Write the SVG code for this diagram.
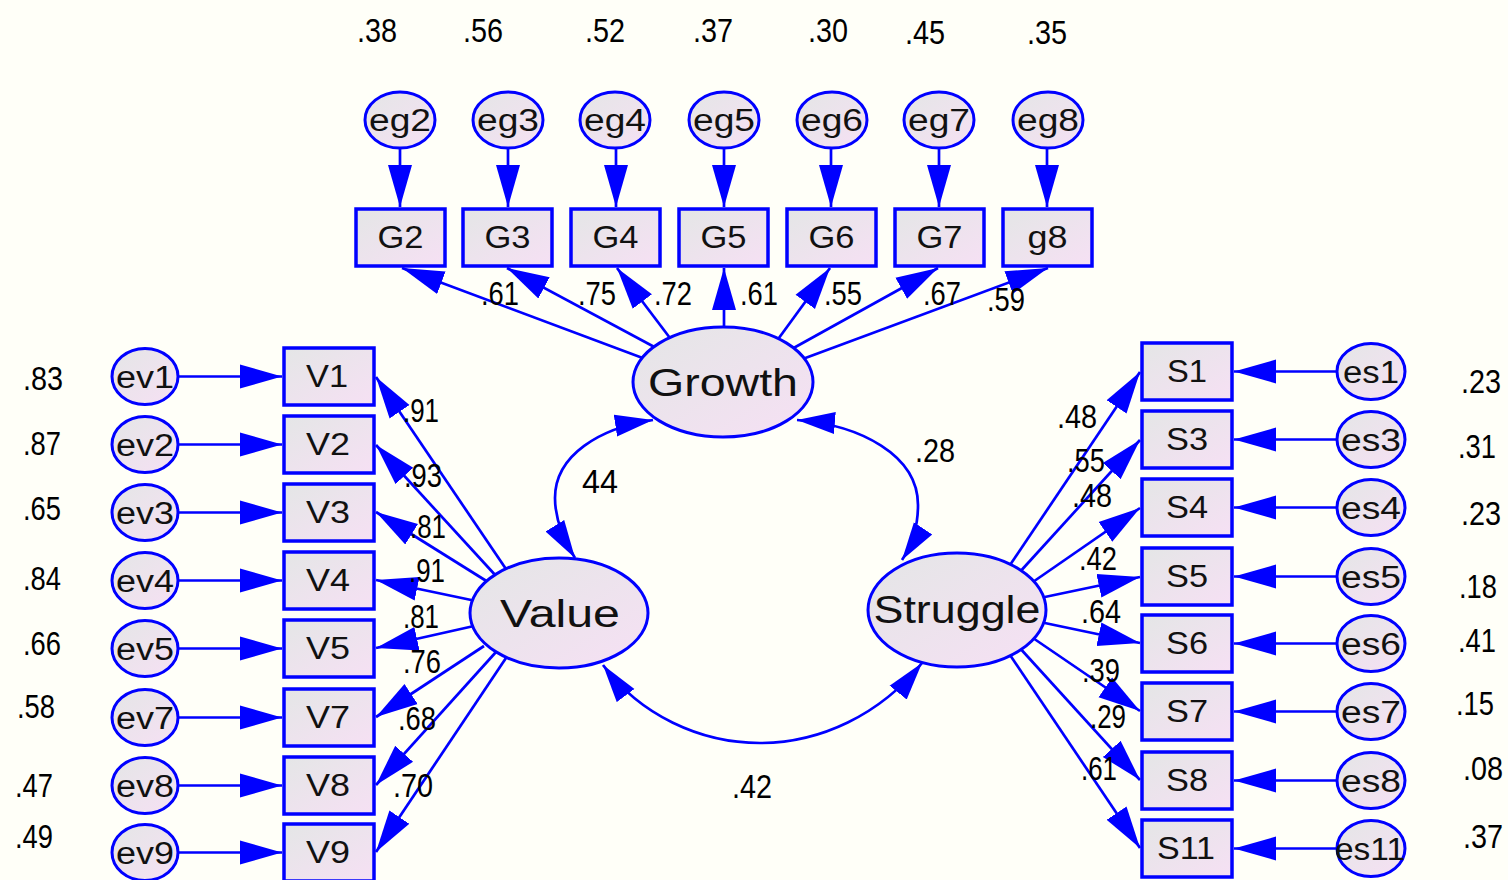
<svg xmlns="http://www.w3.org/2000/svg" width="1508" height="880" viewBox="0 0 1508 880">
<defs>
<linearGradient id="gf" x1="0" y1="0" x2="1" y2="1">
<stop offset="0" stop-color="#E4E6E6"/>
<stop offset="1" stop-color="#F6E0F4"/>
</linearGradient>
<marker id="ah" markerUnits="userSpaceOnUse" markerWidth="42" markerHeight="26" viewBox="0 0 42 26" refX="42" refY="13" orient="auto">
<path d="M0,1 L42,13 L0,25 Z" fill="#0000FF"/>
</marker>
<marker id="ahc" markerUnits="userSpaceOnUse" markerWidth="38" markerHeight="24" viewBox="0 0 38 24" refX="38" refY="12" orient="auto-start-reverse">
<path d="M0,1 L38,12 L0,23 Z" fill="#0000FF"/>
</marker>
<style>
.box{fill:url(#gf);stroke:#0000FF;stroke-width:3.5}
.ell{fill:url(#gf);stroke:#0000FF;stroke-width:3}
.lbl{font-family:"Liberation Sans",Arial,sans-serif;font-size:31px;fill:#111;text-anchor:middle}
.big{font-family:"Liberation Sans",Arial,sans-serif;font-size:38px;fill:#111;text-anchor:middle}
.num{font-family:"Liberation Sans",Arial,sans-serif;font-size:34px;fill:#000;text-anchor:middle}
.edge{stroke:#0000FF;stroke-width:2.7;fill:none;marker-end:url(#ah)}
.cov{stroke:#0000FF;stroke-width:2.7;fill:none;marker-start:url(#ahc);marker-end:url(#ahc)}
</style>
</defs>
<rect x="0" y="0" width="1508" height="880" fill="#FFFFF8"/>

<g id="connectors">
<line class="edge" x1="400" y1="148" x2="400" y2="207"/>
<line class="edge" x1="508" y1="148" x2="508" y2="207"/>
<line class="edge" x1="616" y1="148" x2="616" y2="207"/>
<line class="edge" x1="724" y1="148" x2="724" y2="207"/>
<line class="edge" x1="831" y1="148" x2="831" y2="207"/>
<line class="edge" x1="939" y1="148" x2="939" y2="207"/>
<line class="edge" x1="1047" y1="148" x2="1047" y2="207"/>
<line class="edge" x1="648" y1="360" x2="402" y2="268"/>
<line class="edge" x1="660" y1="350" x2="507" y2="268"/>
<line class="edge" x1="673" y1="342" x2="617" y2="268"/>
<line class="edge" x1="724" y1="332" x2="724" y2="268"/>
<line class="edge" x1="776" y1="342" x2="830" y2="268"/>
<line class="edge" x1="790" y1="350" x2="938" y2="268"/>
<line class="edge" x1="800" y1="360" x2="1048" y2="268"/>
<line class="edge" x1="178" y1="376.5" x2="282" y2="376.5"/>
<line class="edge" x1="178" y1="444.5" x2="282" y2="444.5"/>
<line class="edge" x1="178" y1="512.5" x2="282" y2="512.5"/>
<line class="edge" x1="178" y1="580.5" x2="282" y2="580.5"/>
<line class="edge" x1="178" y1="648.5" x2="282" y2="648.5"/>
<line class="edge" x1="178" y1="717.5" x2="282" y2="717.5"/>
<line class="edge" x1="178" y1="785.5" x2="282" y2="785.5"/>
<line class="edge" x1="178" y1="852.5" x2="282" y2="852.5"/>
<line class="edge" x1="508" y1="572" x2="376" y2="377"/>
<line class="edge" x1="497" y1="577" x2="376" y2="445"/>
<line class="edge" x1="488" y1="582" x2="376" y2="512"/>
<line class="edge" x1="476" y1="601" x2="376" y2="580"/>
<line class="edge" x1="474" y1="626" x2="376" y2="648"/>
<line class="edge" x1="484" y1="646" x2="376" y2="717"/>
<line class="edge" x1="496" y1="652" x2="376" y2="785"/>
<line class="edge" x1="508" y1="655" x2="376" y2="852"/>
<line class="edge" x1="1337" y1="371.5" x2="1234" y2="371.5"/>
<line class="edge" x1="1337" y1="439.5" x2="1234" y2="439.5"/>
<line class="edge" x1="1337" y1="507.5" x2="1234" y2="507.5"/>
<line class="edge" x1="1337" y1="576.5" x2="1234" y2="576.5"/>
<line class="edge" x1="1337" y1="643.5" x2="1234" y2="643.5"/>
<line class="edge" x1="1337" y1="711.5" x2="1234" y2="711.5"/>
<line class="edge" x1="1337" y1="780.5" x2="1234" y2="780.5"/>
<line class="edge" x1="1337" y1="848.5" x2="1234" y2="848.5"/>
<line class="edge" x1="1008" y1="568" x2="1140" y2="372"/>
<line class="edge" x1="1018" y1="574" x2="1140" y2="440"/>
<line class="edge" x1="1030" y1="584" x2="1140" y2="508"/>
<line class="edge" x1="1040" y1="598" x2="1140" y2="577"/>
<line class="edge" x1="1040" y1="622" x2="1140" y2="643"/>
<line class="edge" x1="1030" y1="636" x2="1140" y2="711"/>
<line class="edge" x1="1018" y1="646" x2="1140" y2="780"/>
<line class="edge" x1="1008" y1="652" x2="1140" y2="848"/>
<path class="cov" d="M653,420 C600,428 555,455 555,498 C555,522 565,542 575,558"/>
<path class="cov" d="M797,420 C860,425 918,455 918,505 C918,530 910,548 902,560"/>
<path class="cov" d="M603,665 C640,715 700,743 760,743 C820,743 880,715 922,663"/>
</g>

<g id="labels-edges">
<text class="num" x="500" y="305" textLength="38" lengthAdjust="spacingAndGlyphs">.61</text>
<text class="num" x="597" y="305" textLength="38" lengthAdjust="spacingAndGlyphs">.75</text>
<text class="num" x="673" y="305" textLength="38" lengthAdjust="spacingAndGlyphs">.72</text>
<text class="num" x="759" y="305" textLength="38" lengthAdjust="spacingAndGlyphs">.61</text>
<text class="num" x="843" y="305" textLength="38" lengthAdjust="spacingAndGlyphs">.55</text>
<text class="num" x="942" y="305" textLength="38" lengthAdjust="spacingAndGlyphs">.67</text>
<text class="num" x="1006" y="311" textLength="38" lengthAdjust="spacingAndGlyphs">.59</text>
<text class="num" x="421" y="422" textLength="36" lengthAdjust="spacingAndGlyphs">.91</text>
<text class="num" x="423" y="487" textLength="38" lengthAdjust="spacingAndGlyphs">.93</text>
<text class="num" x="428" y="538" textLength="36" lengthAdjust="spacingAndGlyphs">.81</text>
<text class="num" x="427" y="582" textLength="36" lengthAdjust="spacingAndGlyphs">.91</text>
<text class="num" x="421" y="628" textLength="36" lengthAdjust="spacingAndGlyphs">.81</text>
<text class="num" x="422" y="673" textLength="38" lengthAdjust="spacingAndGlyphs">.76</text>
<text class="num" x="417" y="730" textLength="38" lengthAdjust="spacingAndGlyphs">.68</text>
<text class="num" x="413" y="797" textLength="40" lengthAdjust="spacingAndGlyphs">.70</text>
<text class="num" x="1077" y="428" textLength="40" lengthAdjust="spacingAndGlyphs">.48</text>
<text class="num" x="1086" y="472" textLength="38" lengthAdjust="spacingAndGlyphs">.55</text>
<text class="num" x="1092" y="507" textLength="40" lengthAdjust="spacingAndGlyphs">.48</text>
<text class="num" x="1098" y="570" textLength="38" lengthAdjust="spacingAndGlyphs">.42</text>
<text class="num" x="1101" y="623" textLength="40" lengthAdjust="spacingAndGlyphs">.64</text>
<text class="num" x="1101" y="682" textLength="38" lengthAdjust="spacingAndGlyphs">.39</text>
<text class="num" x="1108" y="728" textLength="36" lengthAdjust="spacingAndGlyphs">.29</text>
<text class="num" x="1099" y="780" textLength="36" lengthAdjust="spacingAndGlyphs">.61</text>
<text class="num" x="600" y="493" textLength="36" lengthAdjust="spacingAndGlyphs">44</text>
<text class="num" x="935" y="462" textLength="40" lengthAdjust="spacingAndGlyphs">.28</text>
<text class="num" x="752" y="798" textLength="40" lengthAdjust="spacingAndGlyphs">.42</text>
</g>

<g id="labels-r2">
<text class="num" x="377" y="42" textLength="40" lengthAdjust="spacingAndGlyphs">.38</text>
<text class="num" x="483" y="42" textLength="40" lengthAdjust="spacingAndGlyphs">.56</text>
<text class="num" x="605" y="42" textLength="40" lengthAdjust="spacingAndGlyphs">.52</text>
<text class="num" x="713" y="42" textLength="40" lengthAdjust="spacingAndGlyphs">.37</text>
<text class="num" x="828" y="42" textLength="40" lengthAdjust="spacingAndGlyphs">.30</text>
<text class="num" x="925" y="44" textLength="40" lengthAdjust="spacingAndGlyphs">.45</text>
<text class="num" x="1047" y="44" textLength="40" lengthAdjust="spacingAndGlyphs">.35</text>
<text class="num" x="43" y="390" textLength="40" lengthAdjust="spacingAndGlyphs">.83</text>
<text class="num" x="42" y="455" textLength="38" lengthAdjust="spacingAndGlyphs">.87</text>
<text class="num" x="42" y="520" textLength="38" lengthAdjust="spacingAndGlyphs">.65</text>
<text class="num" x="42" y="590" textLength="38" lengthAdjust="spacingAndGlyphs">.84</text>
<text class="num" x="42" y="655" textLength="38" lengthAdjust="spacingAndGlyphs">.66</text>
<text class="num" x="36" y="718" textLength="38" lengthAdjust="spacingAndGlyphs">.58</text>
<text class="num" x="34" y="797" textLength="38" lengthAdjust="spacingAndGlyphs">.47</text>
<text class="num" x="34" y="848" textLength="38" lengthAdjust="spacingAndGlyphs">.49</text>
<text class="num" x="1481" y="393" textLength="40" lengthAdjust="spacingAndGlyphs">.23</text>
<text class="num" x="1477" y="458" textLength="38" lengthAdjust="spacingAndGlyphs">.31</text>
<text class="num" x="1481" y="525" textLength="40" lengthAdjust="spacingAndGlyphs">.23</text>
<text class="num" x="1478" y="598" textLength="38" lengthAdjust="spacingAndGlyphs">.18</text>
<text class="num" x="1477" y="652" textLength="38" lengthAdjust="spacingAndGlyphs">.41</text>
<text class="num" x="1475" y="715" textLength="38" lengthAdjust="spacingAndGlyphs">.15</text>
<text class="num" x="1483" y="780" textLength="40" lengthAdjust="spacingAndGlyphs">.08</text>
<text class="num" x="1483" y="848" textLength="40" lengthAdjust="spacingAndGlyphs">.37</text>
</g>

<g id="Growth"><ellipse class="ell" cx="723" cy="382" rx="90" ry="55"/><text class="big" x="723" y="396" textLength="150" lengthAdjust="spacingAndGlyphs">Growth</text></g>
<g id="Value"><ellipse class="ell" cx="559" cy="613" rx="89" ry="55"/><text class="big" x="560" y="627" textLength="120" lengthAdjust="spacingAndGlyphs">Value</text></g>
<g id="Struggle"><ellipse class="ell" cx="957" cy="610" rx="89" ry="57"/><text class="big" x="957" y="623" textLength="167" lengthAdjust="spacingAndGlyphs">Struggle</text></g>

<g id="eg2"><ellipse class="ell" cx="400" cy="120" rx="35" ry="28"/><text class="lbl" x="400" y="131" textLength="62" lengthAdjust="spacingAndGlyphs">eg2</text></g>
<g id="eg3"><ellipse class="ell" cx="508" cy="120" rx="35" ry="28"/><text class="lbl" x="508" y="131" textLength="62" lengthAdjust="spacingAndGlyphs">eg3</text></g>
<g id="eg4"><ellipse class="ell" cx="615" cy="120" rx="35" ry="28"/><text class="lbl" x="615" y="131" textLength="62" lengthAdjust="spacingAndGlyphs">eg4</text></g>
<g id="eg5"><ellipse class="ell" cx="724" cy="120" rx="35" ry="28"/><text class="lbl" x="724" y="131" textLength="62" lengthAdjust="spacingAndGlyphs">eg5</text></g>
<g id="eg6"><ellipse class="ell" cx="832" cy="120" rx="35" ry="28"/><text class="lbl" x="832" y="131" textLength="62" lengthAdjust="spacingAndGlyphs">eg6</text></g>
<g id="eg7"><ellipse class="ell" cx="939" cy="120" rx="35" ry="28"/><text class="lbl" x="939" y="131" textLength="62" lengthAdjust="spacingAndGlyphs">eg7</text></g>
<g id="eg8"><ellipse class="ell" cx="1048" cy="120" rx="35" ry="28"/><text class="lbl" x="1048" y="131" textLength="62" lengthAdjust="spacingAndGlyphs">eg8</text></g>

<g id="G2"><rect class="box" x="356" y="209" width="89" height="57"/><text class="lbl" x="400.5" y="248" textLength="46" lengthAdjust="spacingAndGlyphs">G2</text></g>
<g id="G3"><rect class="box" x="463" y="209" width="89" height="57"/><text class="lbl" x="507.5" y="248" textLength="46" lengthAdjust="spacingAndGlyphs">G3</text></g>
<g id="G4"><rect class="box" x="571" y="209" width="89" height="57"/><text class="lbl" x="615.5" y="248" textLength="46" lengthAdjust="spacingAndGlyphs">G4</text></g>
<g id="G5"><rect class="box" x="679" y="209" width="89" height="57"/><text class="lbl" x="723.5" y="248" textLength="46" lengthAdjust="spacingAndGlyphs">G5</text></g>
<g id="G6"><rect class="box" x="787" y="209" width="89" height="57"/><text class="lbl" x="831.5" y="248" textLength="46" lengthAdjust="spacingAndGlyphs">G6</text></g>
<g id="G7"><rect class="box" x="895" y="209" width="89" height="57"/><text class="lbl" x="939.5" y="248" textLength="46" lengthAdjust="spacingAndGlyphs">G7</text></g>
<g id="g8"><rect class="box" x="1003" y="209" width="89" height="57"/><text class="lbl" x="1047.5" y="248" textLength="40" lengthAdjust="spacingAndGlyphs">g8</text></g>

<g id="ev1"><ellipse class="ell" cx="145" cy="376.5" rx="33" ry="28"/><text class="lbl" x="145" y="388" textLength="58" lengthAdjust="spacingAndGlyphs">ev1</text></g>
<g id="ev2"><ellipse class="ell" cx="145" cy="444.5" rx="33" ry="28"/><text class="lbl" x="145" y="456" textLength="58" lengthAdjust="spacingAndGlyphs">ev2</text></g>
<g id="ev3"><ellipse class="ell" cx="145" cy="512.5" rx="33" ry="28"/><text class="lbl" x="145" y="524" textLength="58" lengthAdjust="spacingAndGlyphs">ev3</text></g>
<g id="ev4"><ellipse class="ell" cx="145" cy="580.5" rx="33" ry="28"/><text class="lbl" x="145" y="592" textLength="58" lengthAdjust="spacingAndGlyphs">ev4</text></g>
<g id="ev5"><ellipse class="ell" cx="145" cy="648.5" rx="33" ry="28"/><text class="lbl" x="145" y="660" textLength="58" lengthAdjust="spacingAndGlyphs">ev5</text></g>
<g id="ev7"><ellipse class="ell" cx="145" cy="717.5" rx="33" ry="28"/><text class="lbl" x="145" y="729" textLength="58" lengthAdjust="spacingAndGlyphs">ev7</text></g>
<g id="ev8"><ellipse class="ell" cx="145" cy="785.5" rx="33" ry="28"/><text class="lbl" x="145" y="797" textLength="58" lengthAdjust="spacingAndGlyphs">ev8</text></g>
<g id="ev9"><ellipse class="ell" cx="145" cy="852.5" rx="33" ry="28"/><text class="lbl" x="145" y="864" textLength="58" lengthAdjust="spacingAndGlyphs">ev9</text></g>

<g id="V1"><rect class="box" x="284" y="348" width="90" height="57"/><text class="lbl" x="327" y="387" textLength="42" lengthAdjust="spacingAndGlyphs">V1</text></g>
<g id="V2"><rect class="box" x="284" y="416" width="90" height="57"/><text class="lbl" x="328" y="455" textLength="44" lengthAdjust="spacingAndGlyphs">V2</text></g>
<g id="V3"><rect class="box" x="284" y="484" width="90" height="57"/><text class="lbl" x="328" y="523" textLength="44" lengthAdjust="spacingAndGlyphs">V3</text></g>
<g id="V4"><rect class="box" x="284" y="552" width="90" height="57"/><text class="lbl" x="328" y="591" textLength="44" lengthAdjust="spacingAndGlyphs">V4</text></g>
<g id="V5"><rect class="box" x="284" y="620" width="90" height="57"/><text class="lbl" x="328" y="659" textLength="44" lengthAdjust="spacingAndGlyphs">V5</text></g>
<g id="V7"><rect class="box" x="284" y="689" width="90" height="57"/><text class="lbl" x="328" y="728" textLength="44" lengthAdjust="spacingAndGlyphs">V7</text></g>
<g id="V8"><rect class="box" x="284" y="757" width="90" height="57"/><text class="lbl" x="328" y="796" textLength="44" lengthAdjust="spacingAndGlyphs">V8</text></g>
<g id="V9"><rect class="box" x="284" y="824" width="90" height="57"/><text class="lbl" x="328" y="863" textLength="44" lengthAdjust="spacingAndGlyphs">V9</text></g>

<g id="S1"><rect class="box" x="1142" y="343" width="90" height="57"/><text class="lbl" x="1187" y="382" textLength="40" lengthAdjust="spacingAndGlyphs">S1</text></g>
<g id="S3"><rect class="box" x="1142" y="411" width="90" height="57"/><text class="lbl" x="1187" y="450" textLength="42" lengthAdjust="spacingAndGlyphs">S3</text></g>
<g id="S4"><rect class="box" x="1142" y="479" width="90" height="57"/><text class="lbl" x="1187" y="518" textLength="42" lengthAdjust="spacingAndGlyphs">S4</text></g>
<g id="S5"><rect class="box" x="1142" y="548" width="90" height="57"/><text class="lbl" x="1187" y="587" textLength="42" lengthAdjust="spacingAndGlyphs">S5</text></g>
<g id="S6"><rect class="box" x="1142" y="615" width="90" height="57"/><text class="lbl" x="1187" y="654" textLength="42" lengthAdjust="spacingAndGlyphs">S6</text></g>
<g id="S7"><rect class="box" x="1142" y="683" width="90" height="57"/><text class="lbl" x="1187" y="722" textLength="42" lengthAdjust="spacingAndGlyphs">S7</text></g>
<g id="S8"><rect class="box" x="1142" y="752" width="90" height="57"/><text class="lbl" x="1187" y="791" textLength="42" lengthAdjust="spacingAndGlyphs">S8</text></g>
<g id="S11"><rect class="box" x="1142" y="820" width="90" height="57"/><text class="lbl" x="1186" y="859" textLength="58" lengthAdjust="spacingAndGlyphs">S11</text></g>

<g id="es1"><ellipse class="ell" cx="1371" cy="371.5" rx="34" ry="28"/><text class="lbl" x="1371" y="383" textLength="56" lengthAdjust="spacingAndGlyphs">es1</text></g>
<g id="es3"><ellipse class="ell" cx="1371" cy="439.5" rx="34" ry="28"/><text class="lbl" x="1371" y="451" textLength="60" lengthAdjust="spacingAndGlyphs">es3</text></g>
<g id="es4"><ellipse class="ell" cx="1371" cy="507.5" rx="34" ry="28"/><text class="lbl" x="1371" y="519" textLength="60" lengthAdjust="spacingAndGlyphs">es4</text></g>
<g id="es5"><ellipse class="ell" cx="1371" cy="576.5" rx="34" ry="28"/><text class="lbl" x="1371" y="588" textLength="60" lengthAdjust="spacingAndGlyphs">es5</text></g>
<g id="es6"><ellipse class="ell" cx="1371" cy="643.5" rx="34" ry="28"/><text class="lbl" x="1371" y="655" textLength="60" lengthAdjust="spacingAndGlyphs">es6</text></g>
<g id="es7"><ellipse class="ell" cx="1371" cy="711.5" rx="34" ry="28"/><text class="lbl" x="1371" y="723" textLength="60" lengthAdjust="spacingAndGlyphs">es7</text></g>
<g id="es8"><ellipse class="ell" cx="1371" cy="780.5" rx="34" ry="28"/><text class="lbl" x="1371" y="792" textLength="60" lengthAdjust="spacingAndGlyphs">es8</text></g>
<g id="es11"><ellipse class="ell" cx="1371" cy="848.5" rx="34" ry="28"/><text class="lbl" x="1370" y="860" textLength="70" lengthAdjust="spacingAndGlyphs">es11</text></g>
</svg>
